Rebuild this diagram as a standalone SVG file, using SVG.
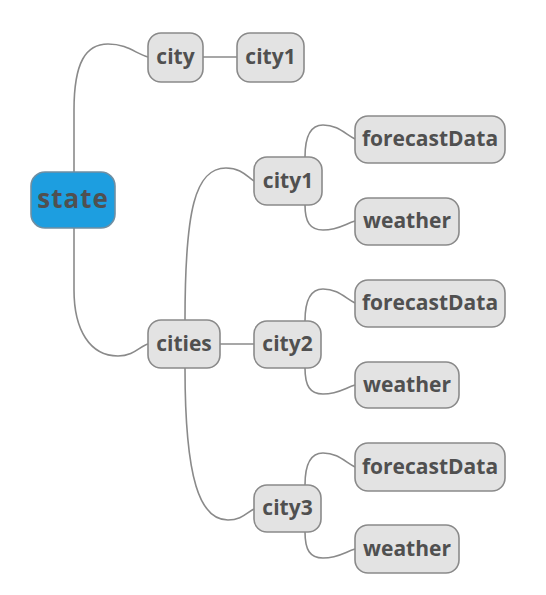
<svg xmlns="http://www.w3.org/2000/svg" width="546" height="595" viewBox="0 0 546 595">
<style>
.n rect{fill:#e3e3e3;stroke:#8a8a8a;stroke-width:1.6}
.n text{font-family:"Open Sans","DejaVu Sans",sans-serif;font-weight:bold;font-size:21px;fill:#505050;text-anchor:middle;dominant-baseline:central}
#state rect{fill:#1d9ee0;stroke:#6f8fa3}
#state text{font-size:26px;letter-spacing:1px}
.c path{fill:none;stroke:#8a8a8a;stroke-width:1.6}
</style>
<rect width="546" height="595" fill="#fff"/>
<g class="c">
<path d="M74,172 L74,110 C74,62 86,44 108,44 C128,44 136,54 148,57"/>
<path d="M74,228 L74,290 C74,330 90,356 118,356 C134,356 140,346 148,344"/>
<path d="M203,57 L237,57"/>
<path d="M185,320 C185,210 195,168 226,168 C242,168 247,177 254,181"/>
<path d="M220,344 L254,344"/>
<path d="M185,368 C185,480 200,520 228,520 C242,520 247,512 254,509"/>
<path d="M305,157 C305,138 310,125 323,125 C338,125 345,134 355,139"/>
<path d="M305,205 C305,222 310,230 323,230 C338,230 345,224 355,221"/>
<path d="M305,321 C305,302 310,289 323,289 C338,289 345,298 355,303"/>
<path d="M305,368 C305,386 310,394 323,394 C338,394 345,388 355,385"/>
<path d="M305,485 C305,466 310,453 323,453 C338,453 345,462 355,467"/>
<path d="M305,532 C305,550 310,558 323,558 C338,558 345,552 355,549"/>
</g>
<g id="state" class="n"><rect x="31" y="172" width="84" height="56" rx="14"/><text x="73" y="197.5">state</text></g>
<g id="city" class="n"><rect x="148" y="33" width="55" height="49" rx="13"/><text x="175.5" y="56">city</text></g>
<g id="city1a" class="n"><rect x="237" y="33" width="67" height="49" rx="13"/><text x="270.5" y="56">city1</text></g>
<g id="cities" class="n"><rect x="148" y="320" width="72" height="48" rx="13"/><text x="184" y="342.5">cities</text></g>
<g id="city1" class="n"><rect x="254" y="157" width="68" height="48" rx="13"/><text x="288" y="179.5">city1</text></g>
<g id="city2" class="n"><rect x="254" y="321" width="67" height="47" rx="13"/><text x="287.5" y="343">city2</text></g>
<g id="city3" class="n"><rect x="254" y="485" width="67" height="47" rx="13"/><text x="287.5" y="507">city3</text></g>
<g id="fd1" class="n"><rect x="355" y="116" width="150" height="47" rx="13"/><text x="430" y="138">forecastData</text></g>
<g id="w1" class="n"><rect x="355" y="198" width="104" height="47" rx="13"/><text x="407" y="220">weather</text></g>
<g id="fd2" class="n"><rect x="355" y="280" width="150" height="47" rx="13"/><text x="430" y="302">forecastData</text></g>
<g id="w2" class="n"><rect x="355" y="362" width="104" height="46" rx="13"/><text x="407" y="383.5">weather</text></g>
<g id="fd3" class="n"><rect x="355" y="443" width="150" height="48" rx="13"/><text x="430" y="465.5">forecastData</text></g>
<g id="w3" class="n"><rect x="355" y="525" width="104" height="48" rx="13"/><text x="407" y="547.5">weather</text></g>
</svg>
